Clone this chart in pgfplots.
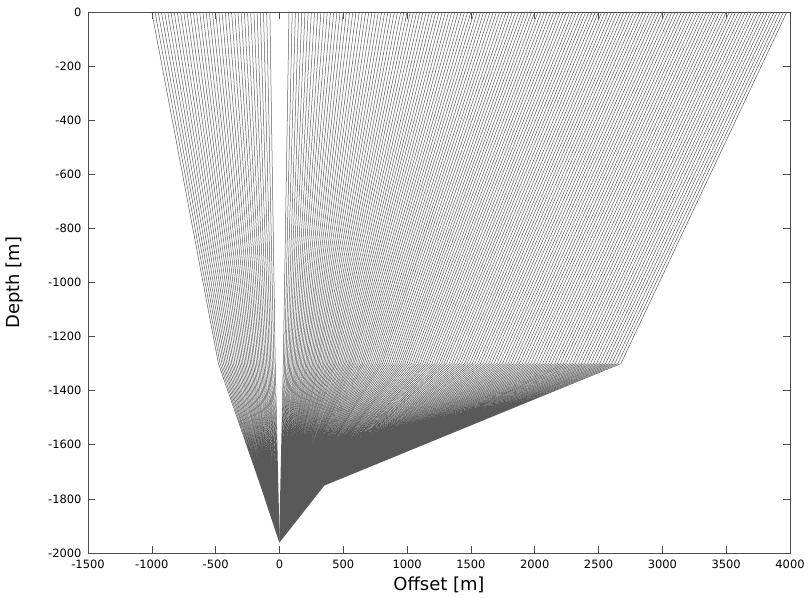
\documentclass[border=0pt]{standalone}
\usepackage{fontspec}
\setmainfont{DejaVu Sans}
\usepackage{pgfplots}
\pgfplotsset{compat=1.18}

\begin{document}
\begin{tikzpicture}
\path[use as bounding box] (0,0) rectangle (809bp,598bp);
\begin{axis}[
    at={(88bp,45bp)}, anchor=south west,
    width=702bp, height=541bp, scale only axis,
    xmin=-1500, xmax=4000, ymin=-2000, ymax=0,
    xtick={-1500,-1000,...,4000},
    ytick={-2000,-1800,...,0},
    tick align=inside,
    major tick length=7bp,
    axis line style={black!70, line width=0.6bp},
    every tick/.style={black!70, line width=0.6bp},
    ticklabel style={font=\fontsize{11.5}{14}\selectfont},
    xticklabel style={yshift=-3bp},
    yticklabel style={xshift=-3bp},
    scaled ticks=false,
    /pgf/number format/1000 sep={},
    /pgf/number format/assume math mode=true,
    xlabel={Offset [m]},
    ylabel={Depth [m]},
    label style={font=\fontsize{18}{20}\selectfont},
    xlabel style={at={(axis description cs:0.5,-0.059)}, anchor=center},
    ylabel style={at={(axis description cs:-0.104,0.5)}, anchor=center},
    unbounded coords=jump,
    clip=true,
]
% rays to receivers on the left side
\addplot[black!65, line width=0.5bp, line join=round, mark=none] coordinates {
(0,-1960)(-11,-1750)(-33,-1300)(-75,0)(nan,nan)
(0,-1960)(-15,-1750)(-44,-1300)(-100,0)(nan,nan)
(0,-1960)(-18,-1750)(-56,-1300)(-125,0)(nan,nan)
(0,-1960)(-21,-1750)(-67,-1300)(-150,0)(nan,nan)
(0,-1960)(-26,-1750)(-78,-1300)(-175,0)(nan,nan)
(0,-1960)(-29,-1750)(-89,-1300)(-200,0)(nan,nan)
(0,-1960)(-32,-1750)(-100,-1300)(-225,0)(nan,nan)
(0,-1960)(-36,-1750)(-112,-1300)(-250,0)(nan,nan)
(0,-1960)(-39,-1750)(-123,-1300)(-275,0)(nan,nan)
(0,-1960)(-44,-1750)(-134,-1300)(-300,0)(nan,nan)
(0,-1960)(-47,-1750)(-145,-1300)(-325,0)(nan,nan)
(0,-1960)(-50,-1750)(-157,-1300)(-350,0)(nan,nan)
(0,-1960)(-54,-1750)(-168,-1300)(-375,0)(nan,nan)
(0,-1960)(-58,-1750)(-180,-1300)(-400,0)(nan,nan)
(0,-1960)(-62,-1750)(-192,-1300)(-425,0)(nan,nan)
(0,-1960)(-65,-1750)(-203,-1300)(-450,0)(nan,nan)
(0,-1960)(-69,-1750)(-215,-1300)(-475,0)(nan,nan)
(0,-1960)(-73,-1750)(-226,-1300)(-500,0)(nan,nan)
(0,-1960)(-76,-1750)(-238,-1300)(-525,0)(nan,nan)
(0,-1960)(-80,-1750)(-250,-1300)(-550,0)(nan,nan)
(0,-1960)(-84,-1750)(-262,-1300)(-575,0)(nan,nan)
(0,-1960)(-87,-1750)(-274,-1300)(-600,0)(nan,nan)
(0,-1960)(-91,-1750)(-286,-1300)(-625,0)(nan,nan)
(0,-1960)(-95,-1750)(-298,-1300)(-650,0)(nan,nan)
(0,-1960)(-99,-1750)(-310,-1300)(-675,0)(nan,nan)
(0,-1960)(-102,-1750)(-322,-1300)(-700,0)(nan,nan)
(0,-1960)(-106,-1750)(-335,-1300)(-725,0)(nan,nan)
(0,-1960)(-110,-1750)(-348,-1300)(-750,0)(nan,nan)
(0,-1960)(-113,-1750)(-361,-1300)(-775,0)(nan,nan)
(0,-1960)(-118,-1750)(-373,-1300)(-800,0)(nan,nan)
(0,-1960)(-121,-1750)(-386,-1300)(-825,0)(nan,nan)
(0,-1960)(-125,-1750)(-399,-1300)(-850,0)(nan,nan)
(0,-1960)(-129,-1750)(-412,-1300)(-875,0)(nan,nan)
(0,-1960)(-132,-1750)(-425,-1300)(-900,0)(nan,nan)
(0,-1960)(-137,-1750)(-438,-1300)(-925,0)(nan,nan)
(0,-1960)(-140,-1750)(-451,-1300)(-950,0)(nan,nan)
(0,-1960)(-144,-1750)(-465,-1300)(-975,0)(nan,nan)
(0,-1960)(-148,-1750)(-478,-1300)(-1000,0)(nan,nan)
};
% rays to receivers on the right side
\addplot[black!65, line width=0.5bp, line join=round, mark=none] coordinates {
(0,-1960)(9,-1750)(30,-1300)(75,0)(nan,nan)
(0,-1960)(12,-1750)(40,-1300)(100,0)(nan,nan)
(0,-1960)(15,-1750)(50,-1300)(125,0)(nan,nan)
(0,-1960)(18,-1750)(61,-1300)(150,0)(nan,nan)
(0,-1960)(20,-1750)(71,-1300)(175,0)(nan,nan)
(0,-1960)(23,-1750)(81,-1300)(200,0)(nan,nan)
(0,-1960)(26,-1750)(91,-1300)(225,0)(nan,nan)
(0,-1960)(29,-1750)(101,-1300)(250,0)(nan,nan)
(0,-1960)(32,-1750)(112,-1300)(275,0)(nan,nan)
(0,-1960)(35,-1750)(122,-1300)(300,0)(nan,nan)
(0,-1960)(38,-1750)(132,-1300)(325,0)(nan,nan)
(0,-1960)(41,-1750)(142,-1300)(350,0)(nan,nan)
(0,-1960)(44,-1750)(152,-1300)(375,0)(nan,nan)
(0,-1960)(47,-1750)(163,-1300)(400,0)(nan,nan)
(0,-1960)(50,-1750)(173,-1300)(425,0)(nan,nan)
(0,-1960)(53,-1750)(184,-1300)(450,0)(nan,nan)
(0,-1960)(56,-1750)(194,-1300)(475,0)(nan,nan)
(0,-1960)(59,-1750)(205,-1300)(500,0)(nan,nan)
(0,-1960)(62,-1750)(215,-1300)(525,0)(nan,nan)
(0,-1960)(65,-1750)(225,-1300)(550,0)(nan,nan)
(0,-1960)(68,-1750)(236,-1300)(575,0)(nan,nan)
(0,-1960)(70,-1750)(247,-1300)(600,0)(nan,nan)
(0,-1960)(73,-1750)(258,-1300)(625,0)(nan,nan)
(0,-1960)(76,-1750)(268,-1300)(650,0)(nan,nan)
(0,-1960)(79,-1750)(279,-1300)(675,0)(nan,nan)
(0,-1960)(82,-1750)(290,-1300)(700,0)(nan,nan)
(0,-1960)(85,-1750)(301,-1300)(725,0)(nan,nan)
(0,-1960)(88,-1750)(311,-1300)(750,0)(nan,nan)
(0,-1960)(91,-1750)(322,-1300)(775,0)(nan,nan)
(0,-1960)(94,-1750)(334,-1300)(800,0)(nan,nan)
(0,-1960)(97,-1750)(345,-1300)(825,0)(nan,nan)
(0,-1960)(100,-1750)(356,-1300)(850,0)(nan,nan)
(0,-1960)(103,-1750)(368,-1300)(875,0)(nan,nan)
(0,-1960)(106,-1750)(379,-1300)(900,0)(nan,nan)
(0,-1960)(109,-1750)(390,-1300)(925,0)(nan,nan)
(0,-1960)(112,-1750)(402,-1300)(950,0)(nan,nan)
(0,-1960)(115,-1750)(413,-1300)(975,0)(nan,nan)
(0,-1960)(118,-1750)(425,-1300)(1000,0)(nan,nan)
(0,-1960)(121,-1750)(436,-1300)(1025,0)(nan,nan)
(0,-1960)(124,-1750)(448,-1300)(1050,0)(nan,nan)
(0,-1960)(127,-1750)(461,-1300)(1075,0)(nan,nan)
(0,-1960)(130,-1750)(473,-1300)(1100,0)(nan,nan)
(0,-1960)(133,-1750)(485,-1300)(1125,0)(nan,nan)
(0,-1960)(137,-1750)(498,-1300)(1150,0)(nan,nan)
(0,-1960)(140,-1750)(510,-1300)(1175,0)(nan,nan)
(0,-1960)(143,-1750)(522,-1300)(1200,0)(nan,nan)
(0,-1960)(146,-1750)(535,-1300)(1225,0)(nan,nan)
(0,-1960)(149,-1750)(547,-1300)(1250,0)(nan,nan)
(0,-1960)(152,-1750)(559,-1300)(1275,0)(nan,nan)
(0,-1960)(155,-1750)(572,-1300)(1300,0)(nan,nan)
(0,-1960)(158,-1750)(584,-1300)(1325,0)(nan,nan)
(0,-1960)(161,-1750)(597,-1300)(1350,0)(nan,nan)
(0,-1960)(164,-1750)(611,-1300)(1375,0)(nan,nan)
(0,-1960)(167,-1750)(624,-1300)(1400,0)(nan,nan)
(0,-1960)(170,-1750)(638,-1300)(1425,0)(nan,nan)
(0,-1960)(173,-1750)(651,-1300)(1450,0)(nan,nan)
(0,-1960)(176,-1750)(664,-1300)(1475,0)(nan,nan)
(0,-1960)(179,-1750)(678,-1300)(1500,0)(nan,nan)
(0,-1960)(182,-1750)(692,-1300)(1525,0)(nan,nan)
(0,-1960)(185,-1750)(706,-1300)(1550,0)(nan,nan)
(0,-1960)(188,-1750)(721,-1300)(1575,0)(nan,nan)
(0,-1960)(191,-1750)(735,-1300)(1600,0)(nan,nan)
(0,-1960)(194,-1750)(750,-1300)(1625,0)(nan,nan)
(0,-1960)(197,-1750)(764,-1300)(1650,0)(nan,nan)
(0,-1960)(200,-1750)(779,-1300)(1675,0)(nan,nan)
(0,-1960)(203,-1750)(793,-1300)(1700,0)(nan,nan)
(0,-1960)(205,-1750)(807,-1300)(1725,0)(nan,nan)
(0,-1960)(208,-1750)(823,-1300)(1750,0)(nan,nan)
(0,-1960)(211,-1750)(839,-1300)(1775,0)(nan,nan)
(0,-1960)(214,-1750)(855,-1300)(1800,0)(nan,nan)
(0,-1960)(217,-1750)(871,-1300)(1825,0)(nan,nan)
(0,-1960)(220,-1750)(887,-1300)(1850,0)(nan,nan)
(0,-1960)(222,-1750)(903,-1300)(1875,0)(nan,nan)
(0,-1960)(225,-1750)(919,-1300)(1900,0)(nan,nan)
(0,-1960)(228,-1750)(935,-1300)(1925,0)(nan,nan)
(0,-1960)(231,-1750)(951,-1300)(1950,0)(nan,nan)
(0,-1960)(234,-1750)(966,-1300)(1975,0)(nan,nan)
(0,-1960)(236,-1750)(982,-1300)(2000,0)(nan,nan)
(0,-1960)(239,-1750)(999,-1300)(2025,0)(nan,nan)
(0,-1960)(242,-1750)(1016,-1300)(2050,0)(nan,nan)
(0,-1960)(244,-1750)(1034,-1300)(2075,0)(nan,nan)
(0,-1960)(247,-1750)(1052,-1300)(2100,0)(nan,nan)
(0,-1960)(249,-1750)(1069,-1300)(2125,0)(nan,nan)
(0,-1960)(252,-1750)(1087,-1300)(2150,0)(nan,nan)
(0,-1960)(254,-1750)(1104,-1300)(2175,0)(nan,nan)
(0,-1960)(257,-1750)(1122,-1300)(2200,0)(nan,nan)
(0,-1960)(260,-1750)(1140,-1300)(2225,0)(nan,nan)
(0,-1960)(262,-1750)(1157,-1300)(2250,0)(nan,nan)
(0,-1960)(264,-1750)(1176,-1300)(2275,0)(nan,nan)
(0,-1960)(267,-1750)(1195,-1300)(2300,0)(nan,nan)
(0,-1960)(269,-1750)(1214,-1300)(2325,0)(nan,nan)
(0,-1960)(271,-1750)(1233,-1300)(2350,0)(nan,nan)
(0,-1960)(273,-1750)(1252,-1300)(2375,0)(nan,nan)
(0,-1960)(276,-1750)(1271,-1300)(2400,0)(nan,nan)
(0,-1960)(278,-1750)(1290,-1300)(2425,0)(nan,nan)
(0,-1960)(280,-1750)(1308,-1300)(2450,0)(nan,nan)
(0,-1960)(282,-1750)(1329,-1300)(2475,0)(nan,nan)
(0,-1960)(284,-1750)(1349,-1300)(2500,0)(nan,nan)
(0,-1960)(286,-1750)(1369,-1300)(2525,0)(nan,nan)
(0,-1960)(288,-1750)(1390,-1300)(2550,0)(nan,nan)
(0,-1960)(290,-1750)(1410,-1300)(2575,0)(nan,nan)
(0,-1960)(292,-1750)(1430,-1300)(2600,0)(nan,nan)
(0,-1960)(293,-1750)(1450,-1300)(2625,0)(nan,nan)
(0,-1960)(295,-1750)(1470,-1300)(2650,0)(nan,nan)
(0,-1960)(297,-1750)(1491,-1300)(2675,0)(nan,nan)
(0,-1960)(299,-1750)(1511,-1300)(2700,0)(nan,nan)
(0,-1960)(301,-1750)(1531,-1300)(2725,0)(nan,nan)
(0,-1960)(303,-1750)(1553,-1300)(2750,0)(nan,nan)
(0,-1960)(304,-1750)(1574,-1300)(2775,0)(nan,nan)
(0,-1960)(306,-1750)(1595,-1300)(2800,0)(nan,nan)
(0,-1960)(307,-1750)(1617,-1300)(2825,0)(nan,nan)
(0,-1960)(309,-1750)(1638,-1300)(2850,0)(nan,nan)
(0,-1960)(311,-1750)(1659,-1300)(2875,0)(nan,nan)
(0,-1960)(312,-1750)(1681,-1300)(2900,0)(nan,nan)
(0,-1960)(313,-1750)(1703,-1300)(2925,0)(nan,nan)
(0,-1960)(315,-1750)(1725,-1300)(2950,0)(nan,nan)
(0,-1960)(316,-1750)(1747,-1300)(2975,0)(nan,nan)
(0,-1960)(317,-1750)(1769,-1300)(3000,0)(nan,nan)
(0,-1960)(319,-1750)(1791,-1300)(3025,0)(nan,nan)
(0,-1960)(320,-1750)(1813,-1300)(3050,0)(nan,nan)
(0,-1960)(321,-1750)(1835,-1300)(3075,0)(nan,nan)
(0,-1960)(322,-1750)(1858,-1300)(3100,0)(nan,nan)
(0,-1960)(324,-1750)(1880,-1300)(3125,0)(nan,nan)
(0,-1960)(325,-1750)(1902,-1300)(3150,0)(nan,nan)
(0,-1960)(326,-1750)(1925,-1300)(3175,0)(nan,nan)
(0,-1960)(327,-1750)(1947,-1300)(3200,0)(nan,nan)
(0,-1960)(328,-1750)(1970,-1300)(3225,0)(nan,nan)
(0,-1960)(329,-1750)(1993,-1300)(3250,0)(nan,nan)
(0,-1960)(330,-1750)(2016,-1300)(3275,0)(nan,nan)
(0,-1960)(331,-1750)(2039,-1300)(3300,0)(nan,nan)
(0,-1960)(332,-1750)(2062,-1300)(3325,0)(nan,nan)
(0,-1960)(333,-1750)(2085,-1300)(3350,0)(nan,nan)
(0,-1960)(334,-1750)(2108,-1300)(3375,0)(nan,nan)
(0,-1960)(335,-1750)(2131,-1300)(3400,0)(nan,nan)
(0,-1960)(336,-1750)(2155,-1300)(3425,0)(nan,nan)
(0,-1960)(336,-1750)(2178,-1300)(3450,0)(nan,nan)
(0,-1960)(337,-1750)(2201,-1300)(3475,0)(nan,nan)
(0,-1960)(338,-1750)(2224,-1300)(3500,0)(nan,nan)
(0,-1960)(339,-1750)(2247,-1300)(3525,0)(nan,nan)
(0,-1960)(340,-1750)(2271,-1300)(3550,0)(nan,nan)
(0,-1960)(340,-1750)(2295,-1300)(3575,0)(nan,nan)
(0,-1960)(341,-1750)(2318,-1300)(3600,0)(nan,nan)
(0,-1960)(342,-1750)(2342,-1300)(3625,0)(nan,nan)
(0,-1960)(342,-1750)(2366,-1300)(3650,0)(nan,nan)
(0,-1960)(343,-1750)(2389,-1300)(3675,0)(nan,nan)
(0,-1960)(344,-1750)(2413,-1300)(3700,0)(nan,nan)
(0,-1960)(344,-1750)(2437,-1300)(3725,0)(nan,nan)
(0,-1960)(345,-1750)(2460,-1300)(3750,0)(nan,nan)
(0,-1960)(346,-1750)(2484,-1300)(3775,0)(nan,nan)
(0,-1960)(346,-1750)(2508,-1300)(3800,0)(nan,nan)
(0,-1960)(347,-1750)(2532,-1300)(3825,0)(nan,nan)
(0,-1960)(347,-1750)(2555,-1300)(3850,0)(nan,nan)
(0,-1960)(348,-1750)(2579,-1300)(3875,0)(nan,nan)
(0,-1960)(348,-1750)(2603,-1300)(3900,0)(nan,nan)
(0,-1960)(349,-1750)(2627,-1300)(3925,0)(nan,nan)
(0,-1960)(349,-1750)(2651,-1300)(3950,0)(nan,nan)
(0,-1960)(350,-1750)(2675,-1300)(3975,0)(nan,nan)
};
\end{axis}
\end{tikzpicture}
\end{document}
